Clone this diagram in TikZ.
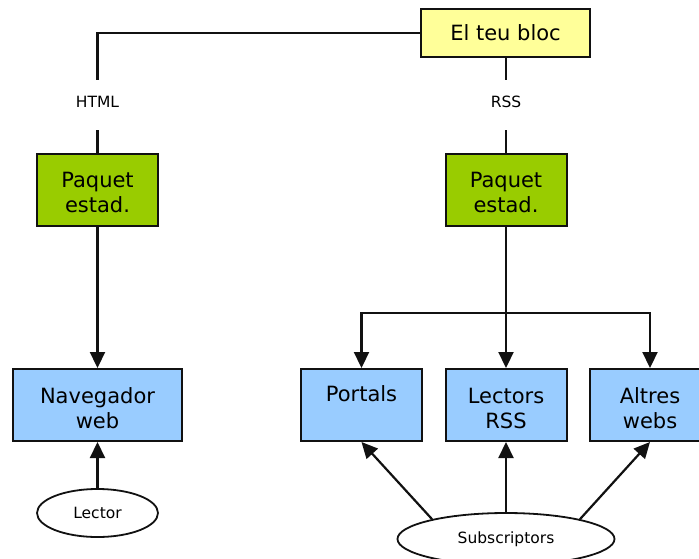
\documentclass[tikz,border=0pt]{standalone}
\usepackage{fontspec}
\setmainfont{DejaVu Sans}
\usetikzlibrary{arrows.meta,shapes.geometric}
\definecolor{cyellow}{HTML}{FFFF99}
\definecolor{cgreen}{HTML}{99CC00}
\definecolor{cblue}{HTML}{99CCFF}
\definecolor{cline}{HTML}{111111}
\newcommand{\myfirststrut}{\rule{0pt}{22pt}}
\begin{document}
\begin{tikzpicture}[x=1pt,y=-1pt,
  box/.style={draw=cline, line width=2pt, minimum width=121pt, minimum height=72pt,
    inner sep=0pt, align=center, font=\fontsize{21}{25}\selectfont},
  ybox/.style={box, fill=cyellow, minimum width=169pt, minimum height=48pt},
  gbox/.style={box, fill=cgreen},
  bbox/.style={box, fill=cblue},
  oval/.style={draw=cline, line width=1.8pt, ellipse, fill=white, inner sep=0pt,
    font=\fontsize{15.5}{18}\selectfont},
  lbl/.style={inner sep=0pt, font=\fontsize{15.5}{18}\selectfont},
  conn/.style={draw=cline, line width=2.2pt},
  arr/.style={conn, -{Triangle[width=15pt,length=16pt]}}]
\useasboundingbox (0,0) rectangle (699,558);

\node[ybox] (bloc) at (505.5,33) {El teu bloc};
\node[gbox] (pl) at (97.5,189.5) {\myfirststrut Paquet\\estad.};
\node[gbox] (pr) at (506,189.5) {\myfirststrut Paquet\\estad.};
\node[bbox, minimum width=169pt] (nav) at (97.5,405) {\myfirststrut Navegador\\web};
\node[bbox] (po) at (361.5,405) {\myfirststrut Portals\\\phantom{Pg}};
\node[bbox] (lr) at (506,405) {\myfirststrut Lectors\\RSS};
\node[bbox] (al) at (650,405) {\myfirststrut Altres\\webs};
\node[oval, minimum width=121pt, minimum height=48pt] (lec) at (97.5,513) {Lector};
\node[oval, minimum width=217pt, minimum height=52pt] (subs) at (506,539) {Subscriptors};

\node[lbl] (html) at (97.5,101.5) {HTML};
\node[lbl] (rss) at (506,101.5) {RSS};
\coordinate (h1) at (97.5,80);
\coordinate (h2) at (97.5,130);
\coordinate (r1) at (506,80);
\coordinate (r2) at (506,130);
\coordinate (br) at (506,313);

\draw[conn] (bloc.west) -| (h1);
\draw[conn] (h2) -- (pl.north);
\draw[conn] (bloc.south -| r1) -- (r1);
\draw[conn] (r2) -- (pr.north);

\draw[arr] (pl) -- (nav);
\draw[arr] (pr) -- (lr);
\draw[arr] (br) -| (po.north);
\draw[arr] (br) -| (al.north);

\draw[arr] (lec) -- (nav);
\draw[arr] (subs) -- (lr);
\draw[arr] (subs.165) -- (po.south);
\draw[arr] (subs.15) -- (al.south);
\end{tikzpicture}
\end{document}
